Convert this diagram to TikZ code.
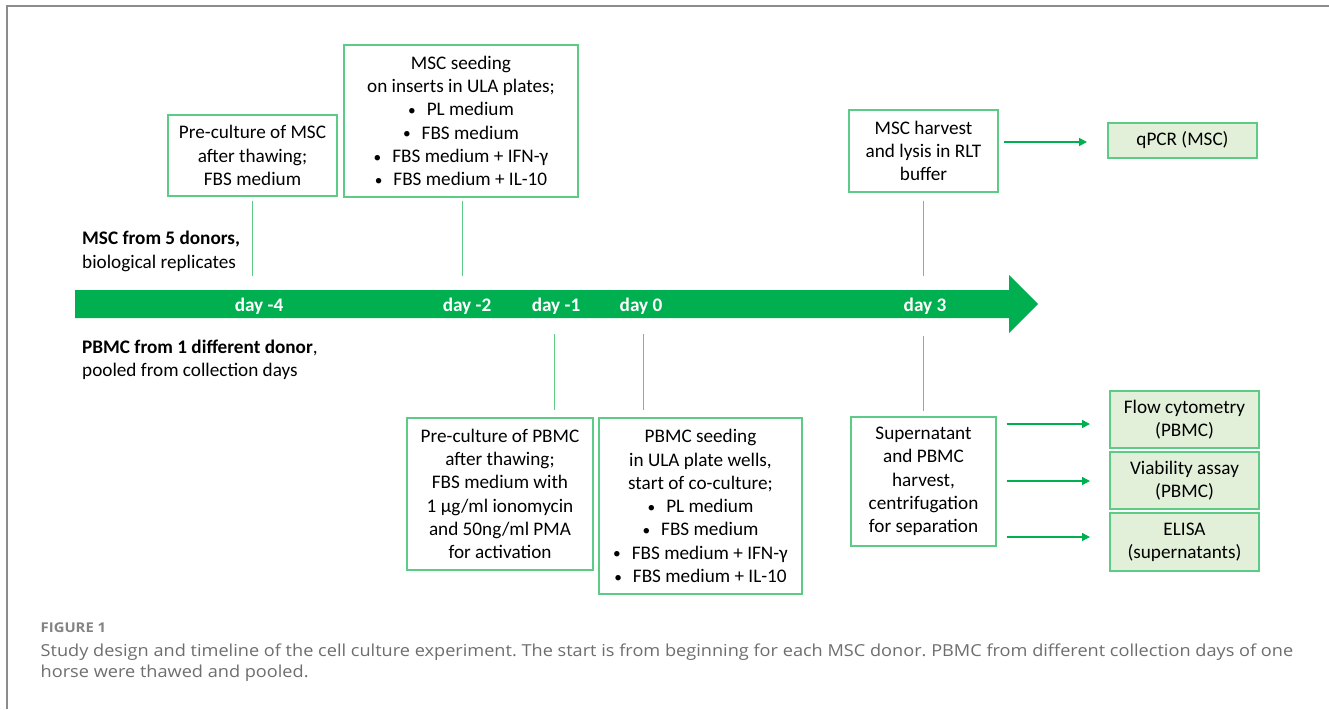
\documentclass[tikz,border=0pt]{standalone}
\usepackage{fontspec}
\setmainfont{Carlito}
\newfontfamily\capfont[FakeStretch=1.1]{Open Sans}
\usetikzlibrary{arrows.meta}
\definecolor{tgreen}{HTML}{00B050}
\definecolor{bgreen}{HTML}{5CCB85}
\definecolor{fgreen}{HTML}{E2F0D9}
\definecolor{framegray}{HTML}{8C8C8C}
\definecolor{capgray}{HTML}{6E6E6E}
\newcommand{\bul}{\raisebox{0.5pt}{\scalebox{0.8}{\textbullet}}\hspace{11pt}}
\frenchspacing
\begin{document}
\begin{tikzpicture}[x=1pt,y=-1pt,
  box/.style={draw=bgreen,line width=1.3pt,fill=white,align=center,
    font=\fontsize{19.2}{23.3}\selectfont,inner sep=0pt},
  res/.style={box,fill=fgreen},
  conn/.style={draw=bgreen,line width=1pt},
  arr/.style={draw=tgreen,line width=1.6pt,-{Triangle[length=8pt,width=8pt]}},
  daylbl/.style={text=white,font=\bfseries\fontsize{19.2}{20}\selectfont,inner sep=0pt},
  side/.style={anchor=west,align=left,font=\fontsize{19.2}{23.3}\selectfont,inner sep=0pt},
]
\useasboundingbox (0,0) rectangle (1329,709);
\fill[white] (0,0) rectangle (1329,709);
\draw[framegray,line width=1.5pt] (7,709) -- (7,6) -- (1329,6);

% timeline arrow
\fill[tgreen] (75,290) -- (1009,290) -- (1009,275) -- (1038,304) -- (1009,333) -- (1009,318) -- (75,318) -- cycle;
\node[daylbl] (dm4) at (259,306) {day -4};
\node[daylbl] (dm2) at (467,306) {day -2};
\node[daylbl] (dm1) at (556,306) {day -1};
\node[daylbl] (d0) at (641,306) {day 0};
\node[daylbl] (d3) at (925,306) {day 3};

% side labels
\node[side] (msc) at (82,251.5) {\textbf{MSC from 5 donors,}\\biological replicates};
\node[side] (pbmc) at (82,359.5) {\textbf{PBMC from 1 different donor},\\pooled from collection days};

% upper boxes
\node[box,minimum width=169pt,minimum height=81pt] (preMSC) at (252.5,155.5)
  {Pre-culture of MSC\\after thawing;\\FBS medium};
\node[box,minimum width=234pt,minimum height=152pt] (seedMSC) at (461,121)
  {MSC seeding\\on inserts in ULA plates;\\\bul PL medium\\\bul FBS medium\\\bul FBS medium + IFN-γ\\\bul FBS medium + IL-10};
\node[box,minimum width=149pt,minimum height=82pt] (harvMSC) at (923.5,151)
  {MSC harvest\\and lysis in RLT\\buffer};
\node[res,minimum width=149pt,minimum height=35pt] (qpcr) at (1182.5,140.5) {qPCR (MSC)};

% lower boxes
\node[box,minimum width=186pt,minimum height=152pt] (prePBMC) at (500,494)
  {Pre-culture of PBMC\\after thawing;\\FBS medium with\\1 µg/ml ionomycin\\and 50ng/ml PMA\\for activation};
\node[box,minimum width=203pt,minimum height=176pt] (seedPBMC) at (700.5,506)
  {PBMC seeding\\in ULA plate wells,\\start of co-culture;\\\bul PL medium\\\bul FBS medium\\\bul FBS medium + IFN-γ\\\bul FBS medium + IL-10};
\node[box,minimum width=145pt,minimum height=129pt] (super) at (923.5,481.5)
  {Supernatant\\and PBMC\\harvest,\\centrifugation\\for separation};
\node[res,minimum width=149pt,minimum height=57pt] (flow) at (1184.5,419.5) {Flow cytometry\\(PBMC)};
\node[res,minimum width=149pt,minimum height=57pt] (via) at (1184.5,480.5) {Viability assay\\(PBMC)};
\node[res,minimum width=149pt,minimum height=58pt] (elisa) at (1184.5,542) {ELISA\\(supernatants)};

% connector end points on the timeline
\coordinate (t4) at (252.5,276);
\coordinate (t2) at (462,276);
\coordinate (t3u) at (923,276);
\coordinate (t1) at (554,334);
\coordinate (t0) at (643,334);
\coordinate (t3d) at (923,336);

\draw[conn] ([yshift=-4pt]preMSC.south) -- (t4);
\draw[conn] ([xshift=1pt,yshift=-3pt]seedMSC.south) -- (t2);
\draw[conn] ([xshift=-0.5pt,yshift=-8pt]harvMSC.south) -- (t3u);
\draw[conn] (t1) -- ([xshift=54pt,yshift=7pt]prePBMC.north);
\draw[conn] (t0) -- ([xshift=-57.5pt,yshift=7pt]seedPBMC.north);
\draw[conn] (t3d) -- ([xshift=-0.5pt,yshift=5pt]super.north);

% result arrows (free ends as named coordinates)
\coordinate (aq) at (1087,142);
\coordinate (af) at (1090,424);
\coordinate (av) at (1090,481);
\coordinate (ae) at (1090,537);
\draw[arr] ([xshift=5pt,yshift=9pt]harvMSC.east) -- (aq);
\draw[arr] ([xshift=10pt,yshift=57.5pt]super.east) -- (af);
\draw[arr] ([xshift=10pt,yshift=0.5pt]super.east) -- (av);
\draw[arr] ([xshift=10pt,yshift=-55.5pt]super.east) -- (ae);

% caption
\node[anchor=west,inner sep=0pt,text=capgray!85,font=\capfont\bfseries\fontsize{13.5}{15}\selectfont] (fig) at (40.5,628) {FIGURE 1};
\node[anchor=west,inner sep=0pt,align=left,text=capgray,font=\capfont\fontsize{16.5}{21.5}\selectfont] (cap) at (40.5,662.5)
  {Study design and timeline of the cell culture experiment. The start is from beginning for each MSC donor. PBMC from different collection days of one\\horse were thawed and pooled.};
\end{tikzpicture}
\end{document}
